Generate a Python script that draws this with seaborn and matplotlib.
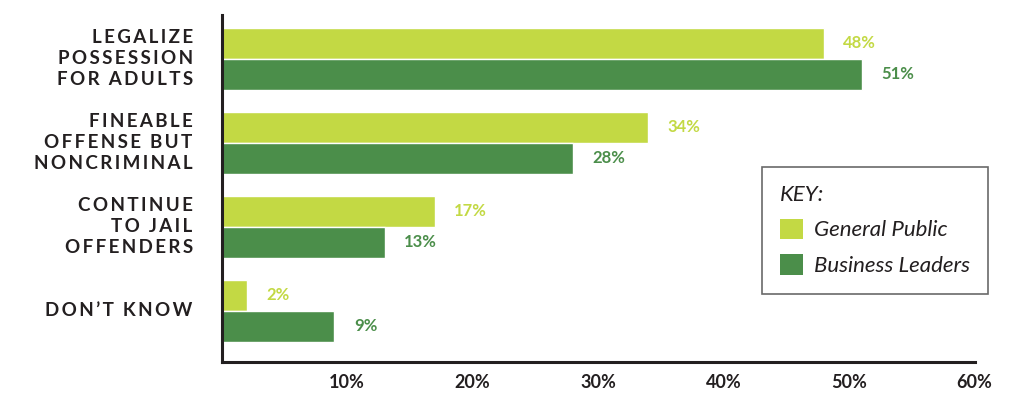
import pandas as pd
import matplotlib.pyplot as plt
import seaborn as sns
from matplotlib.patches import Patch

# Chart values
categories = ["LEGALIZE\nPOSSESSION\nFOR ADULTS", "FINEABLE\nOFFENSE BUT\nNONCRIMINAL",
              "CONTINUE\nTO JAIL\nOFFENDERS", "DON\u2019T KNOW"]
general_public = [48, 34, 17, 2]
business_leaders = [51, 28, 13, 9]
groups = ["General Public", "Business Leaders"]
tick_values = [10, 20, 30, 40, 50, 60]
tick_labels = ["10%", "20%", "30%", "40%", "50%", "60%"]

light_green = "#c3d944"
dark_green = "#4b8e4a"
ink = "#231f20"

df = pd.DataFrame({
    "category": categories * 2,
    "group": [groups[0]] * len(categories) + [groups[1]] * len(categories),
    "value": general_public + business_leaders,
})

sns.set_style("white")
plt.rcParams["font.family"] = ["Lato", "DejaVu Sans"]

fig = plt.figure(figsize=(10.24, 3.95), dpi=100)
ax = fig.add_axes([221.5 / 1024, 1 - 362 / 395, 753 / 1024, 347 / 395])

sns.barplot(data=df, y="category", x="value", hue="group", orient="h",
            palette=[light_green, dark_green], width=0.74, saturation=1,
            ax=ax, legend=False)

ax.set_xlim(0, 60)
ax.set_ylim(3.61, -0.52)

# value labels
for cont, color in zip(ax.containers, [light_green, dark_green]):
    ax.bar_label(cont, labels=[f"{v:.0f}%" for v in cont.datavalues],
                 padding=14, color=color, fontsize=12, fontweight="bold")

# axes styling
for side in ["top", "right"]:
    ax.spines[side].set_visible(False)
for side in ["left", "bottom"]:
    ax.spines[side].set_color(ink)
    ax.spines[side].set_linewidth(2.2)

ax.set_xticks(tick_values)
ax.set_xticklabels(tick_labels)
ax.tick_params(axis="x", direction="in", length=8, width=1.2, color="#555555",
               pad=9, labelsize=13, labelcolor=ink)
for t in ax.get_xticklabels():
    t.set_fontweight("bold")

ax.set_yticks([])
ax.set_xlabel("")
ax.set_ylabel("")

# category labels with wide tracking
thin = "\u2009"
for i, cat in enumerate(categories):
    spaced = "\n".join(thin.join(line).replace(thin + " " + thin, "  ")
                       for line in cat.split("\n"))
    ax.text(-2.3, i, spaced, ha="right", va="center", fontsize=13.5,
            fontweight="bold", color=ink, linespacing=1.3,
            transform=ax.transData)

# legend
handles = [Patch(facecolor=light_green, edgecolor="none"),
           Patch(facecolor=dark_green, edgecolor="none")]
leg = fig.legend(handles, groups, title="KEY:", loc="upper left",
                 bbox_to_anchor=(762 / 1024, 1 - 167 / 395),
                 frameon=True, fancybox=False, edgecolor="#444444",
                 prop={"style": "italic", "size": 16},
                 title_fontproperties={"style": "italic", "size": 16},
                 alignment="left", handlelength=1.05, handleheight=1.05,
                 borderpad=0.8, labelspacing=0.62, handletextpad=0.5,
                 borderaxespad=0)
leg.get_frame().set_linewidth(1.2)
for txt in leg.get_texts():
    txt.set_color(ink)
leg.get_title().set_color(ink)

fig.savefig("out.png", dpi=100)
